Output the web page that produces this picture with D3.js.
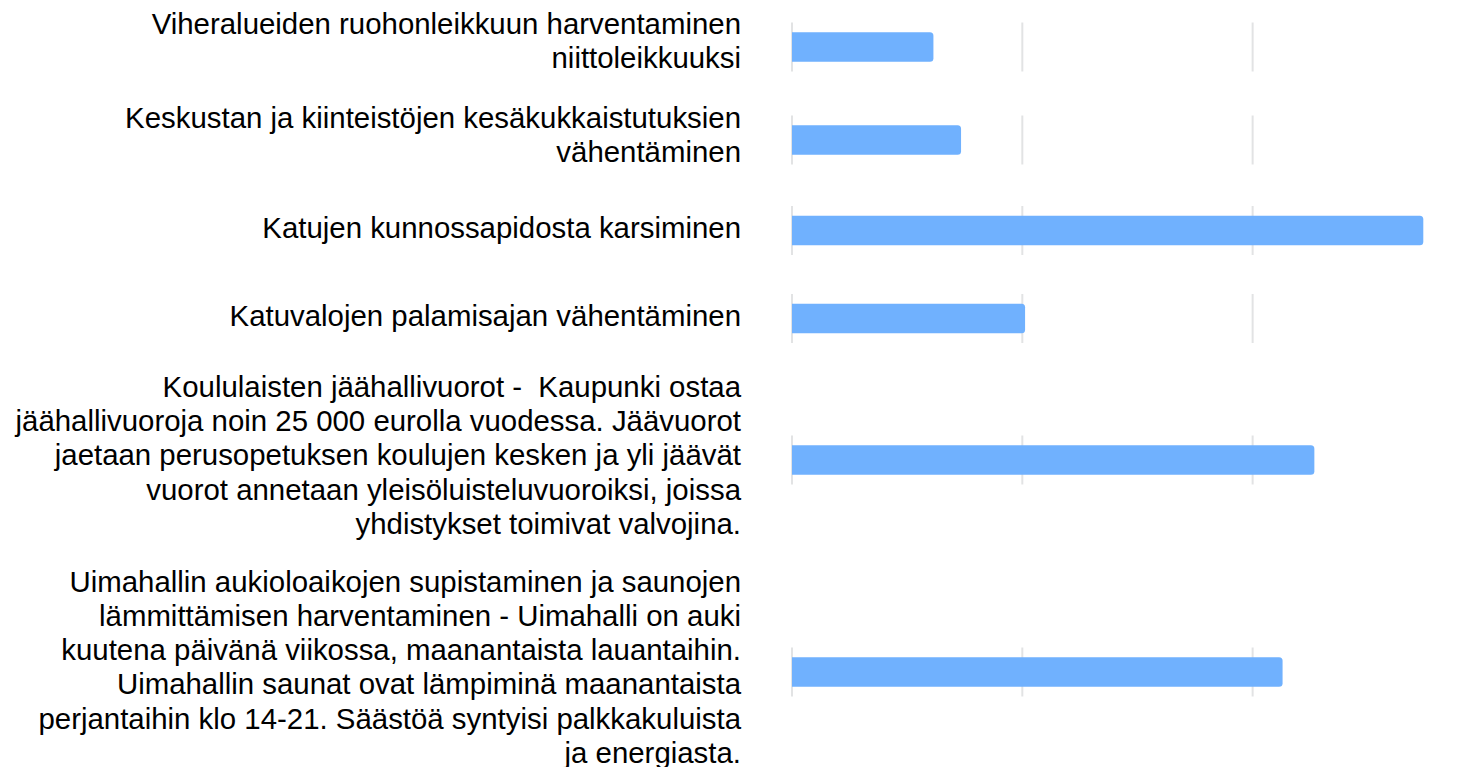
<!DOCTYPE html>
<html>
<head>
<meta charset="utf-8">
<script src="https://cdn.jsdelivr.net/npm/d3@7"></script>
<style>
	body {
		margin: 0;
		background: #fff;
	}
	.label {
		font-family: "Liberation Sans", Arial, sans-serif;
		font-size: 29.4px;
		fill: #000;
		white-space: pre;
	}
</style>
</head>
<body>
<div id="chart"></div>
<script>
// label lines, as they are wrapped in the picture
var labels = [
	["Viheralueiden ruohonleikkuun harventaminen", "niittoleikkuuksi"],
	["Keskustan ja kiinteistöjen kesäkukkaistutuksien", "vähentäminen"],
	["Katujen kunnossapidosta karsiminen"],
	["Katuvalojen palamisajan vähentäminen"],
	["Koululaisten jäähallivuorot -  Kaupunki ostaa",
	 "jäähallivuoroja noin 25 000 eurolla vuodessa. Jäävuorot",
	 "jaetaan perusopetuksen koulujen kesken ja yli jäävät",
	 "vuorot annetaan yleisöluisteluvuoroiksi, joissa",
	 "yhdistykset toimivat valvojina."],
	["Uimahallin aukioloaikojen supistaminen ja saunojen",
	 "lämmittämisen harventaminen - Uimahalli on auki",
	 "kuutena päivänä viikossa, maanantaista lauantaihin.",
	 "Uimahallin saunat ovat lämpiminä maanantaista",
	 "perjantaihin klo 14-21. Säästöä syntyisi palkkakuluista",
	 "ja energiasta."]
];
var values = [6.14, 7.34, 27.41, 10.12, 22.68, 21.3];
var ticks = [0, 10, 20];

var width = 1465, height = 767;
var lineH = 34.3;
var barH = 29.5;
var gridH = 49;
var labelX = 741;

var svg = d3.select("#chart").append("svg")
	.attr("width", width)
	.attr("height", height);

var x = d3.scaleLinear()
	.domain([0, d3.max(values)])
	.range([792, 1423.3]);

// rows get taller with the number of label lines
var rows = [];
var yCursor = 0.5;
labels.forEach(function (lines, i) {
	var h = Math.max(lines.length * 34, 63) + 25;
	rows.push({ lines: lines, value: values[i], cy: yCursor + h / 2 });
	yCursor += h;
});

var row = svg.selectAll("g.row")
	.data(rows)
	.enter().append("g")
	.attr("class", "row")
	.attr("transform", function (d) { return "translate(0," + d.cy + ")"; });

// short grid segments for each row
row.selectAll("line.grid")
	.data(ticks)
	.enter().append("line")
	.attr("class", "grid")
	.attr("x1", function (t) { return x(t); })
	.attr("x2", function (t) { return x(t); })
	.attr("y1", -gridH / 2)
	.attr("y2", gridH / 2)
	.attr("stroke", "#e2e3e4")
	.attr("stroke-width", 2);

// bars, rounded on the right end only
row.append("path")
	.attr("fill", "#70b1fe")
	.attr("d", function (d) {
		var x0 = x(0), x1 = x(d.value), r = 3.5;
		var y0 = -barH / 2, y1 = barH / 2;
		return "M" + x0 + "," + y0 +
			"H" + (x1 - r) +
			"Q" + x1 + "," + y0 + " " + x1 + "," + (y0 + r) +
			"V" + (y1 - r) +
			"Q" + x1 + "," + y1 + " " + (x1 - r) + "," + y1 +
			"H" + x0 + "Z";
	});

row.append("text")
	.attr("class", "label")
	.attr("text-anchor", "end")
	.each(function (d, i) {
		var n = d.lines.length;
		var t = d3.select(this);
		d.lines.forEach(function (ln, k) {
			t.append("tspan")
				.attr("x", labelX)
				.attr("y", (k - (n - 1) / 2) * lineH - (n > 1 ? 5 : 3) - (i == 0 ? 1.5 : 0))
				.attr("dy", "0.35em")
				.text(ln);
		});
	});
</script>
</body>
</html>
